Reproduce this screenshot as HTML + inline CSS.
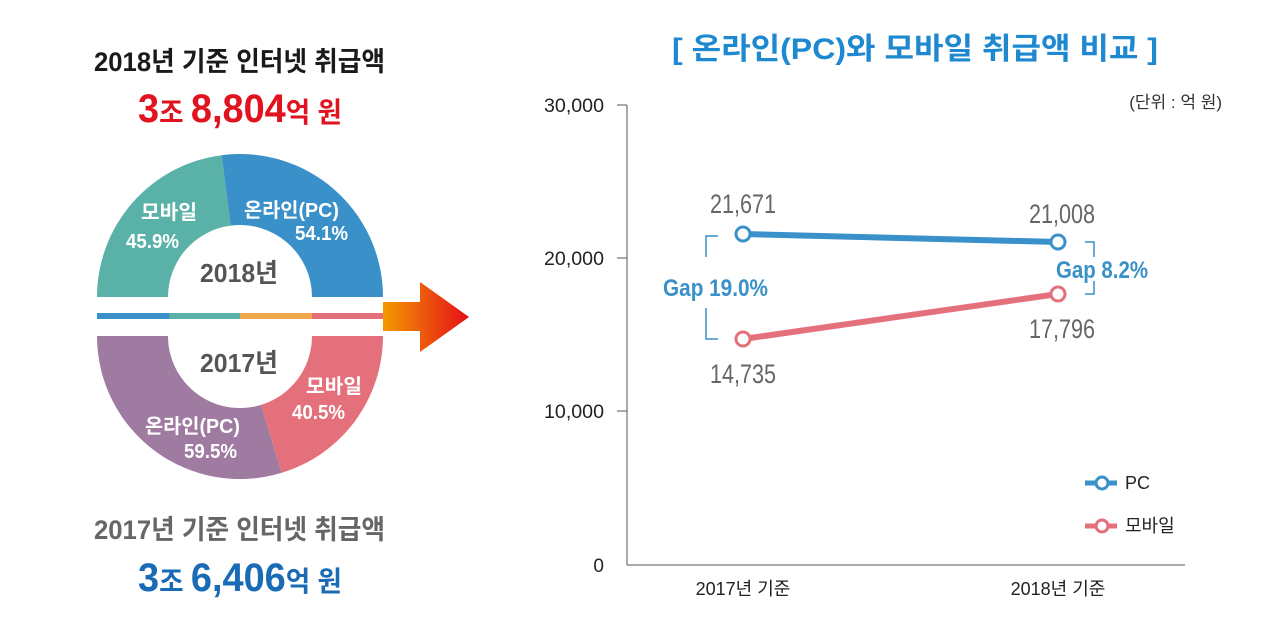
<!DOCTYPE html>
<html><head><meta charset="utf-8"><style>
html,body{margin:0;padding:0;background:#fff;}
svg{display:block;font-family:"Liberation Sans","Noto Sans CJK KR",sans-serif;}
</style></head><body>
<svg width="1280" height="633" viewBox="0 0 1280 633" xmlns="http://www.w3.org/2000/svg">
<defs>
<linearGradient id="ag" x1="0" x2="1" y1="0" y2="0"><stop offset="0" stop-color="#f39a00"/><stop offset="1" stop-color="#e50e18"/></linearGradient>
</defs>
<!-- left titles -->
<text x="94" y="71" font-size="27" font-weight="bold" fill="#1a1a1a" textLength="291" lengthAdjust="spacingAndGlyphs">2018년 기준 인터넷 취급액</text>
<text x="138" y="122" fill="#e0131f" font-weight="bold" textLength="204" lengthAdjust="spacingAndGlyphs"><tspan font-size="40">3</tspan><tspan font-size="28">조 </tspan><tspan font-size="40">8,804</tspan><tspan font-size="28">억 원</tspan></text>
<text x="94" y="539" font-size="27" font-weight="bold" fill="#666" textLength="291" lengthAdjust="spacingAndGlyphs">2017년 기준 인터넷 취급액</text>
<text x="138" y="591" fill="#1a6bb5" font-weight="bold" textLength="204" lengthAdjust="spacingAndGlyphs"><tspan font-size="40">3</tspan><tspan font-size="28">조 </tspan><tspan font-size="40">6,406</tspan><tspan font-size="28">억 원</tspan></text>
<!-- top donut -->
<path d="M97,297 A143,143 0 0 1 221.6,155.2 L230.7,225.6 A72,72 0 0 0 168,297 Z" fill="#5ab1a7"/>
<path d="M221.6,155.2 A143,143 0 0 1 383,297 L312,297 A72,72 0 0 0 230.7,225.6 Z" fill="#3a90c9"/>
<!-- bottom donut -->
<path d="M97,336 A143,143 0 0 0 281.8,472.8 L261,404.9 A72,72 0 0 1 168,336 Z" fill="#a07ba1"/>
<path d="M281.8,472.8 A143,143 0 0 0 383,336 L312,336 A72,72 0 0 1 261,404.9 Z" fill="#e4707b"/>
<!-- stripe -->
<rect x="97" y="313" width="72" height="6" fill="#3a90c9"/>
<rect x="169" y="313" width="71" height="6" fill="#5ab1a7"/>
<rect x="240" y="313" width="72" height="6" fill="#f0a94a"/>
<rect x="312" y="313" width="71" height="6" fill="#e4707b"/>
<!-- arrow -->
<path d="M383,302 L420,302 L420,282 L469,317 L420,352 L420,331 L383,331 Z" fill="url(#ag)"/>
<!-- donut labels -->
<g fill="#fff" font-size="20" font-weight="bold">
<text x="141" y="219" textLength="56" lengthAdjust="spacingAndGlyphs">모바일</text>
<text x="126" y="248" textLength="53" lengthAdjust="spacingAndGlyphs">45.9%</text>
<text x="244" y="217" textLength="95" lengthAdjust="spacingAndGlyphs">온라인(PC)</text>
<text x="295" y="240" textLength="53" lengthAdjust="spacingAndGlyphs">54.1%</text>
<text x="306" y="393" textLength="56" lengthAdjust="spacingAndGlyphs">모바일</text>
<text x="292" y="419" textLength="53" lengthAdjust="spacingAndGlyphs">40.5%</text>
<text x="145" y="433" textLength="95" lengthAdjust="spacingAndGlyphs">온라인(PC)</text>
<text x="184" y="458" textLength="53" lengthAdjust="spacingAndGlyphs">59.5%</text>
</g>
<text x="200" y="282" font-size="26" font-weight="bold" fill="#555" textLength="78" lengthAdjust="spacingAndGlyphs">2018년</text>
<text x="200" y="372" font-size="26" font-weight="bold" fill="#555" textLength="78" lengthAdjust="spacingAndGlyphs">2017년</text>
<!-- right title -->
<text x="672" y="59" font-size="30" font-weight="bold" fill="#1e88d0" textLength="486" lengthAdjust="spacingAndGlyphs">[ 온라인(PC)와 모바일 취급액 비교 ]</text>
<text x="1222" y="108" font-size="17" fill="#333" text-anchor="end">(단위 : 억 원)</text>
<!-- axes -->
<g stroke="#555" stroke-width="1">
<line x1="627" y1="105" x2="627" y2="565"/>
<line x1="627" y1="565" x2="1185" y2="565"/>
<line x1="617" y1="105" x2="627" y2="105"/>
<line x1="617" y1="258" x2="627" y2="258"/>
<line x1="617" y1="411" x2="627" y2="411"/>
</g>
<g font-size="19" fill="#222" text-anchor="end">
<text x="604" y="112" textLength="60" lengthAdjust="spacingAndGlyphs">30,000</text>
<text x="604" y="265" textLength="60" lengthAdjust="spacingAndGlyphs">20,000</text>
<text x="604" y="418" textLength="60" lengthAdjust="spacingAndGlyphs">10,000</text>
<text x="604" y="572">0</text>
</g>
<text x="743" y="595" font-size="18" fill="#222" text-anchor="middle">2017년 기준</text>
<text x="1058" y="595" font-size="18" fill="#222" text-anchor="middle">2018년 기준</text>
<!-- series -->
<line x1="743" y1="234" x2="1058" y2="242" stroke="#3a90c9" stroke-width="6"/>
<line x1="743" y1="339" x2="1058" y2="294" stroke="#e4707b" stroke-width="6"/>
<g fill="#fff" stroke-width="3">
<circle cx="743" cy="234" r="7" stroke="#3a90c9"/>
<circle cx="1058" cy="242" r="7" stroke="#3a90c9"/>
<circle cx="743" cy="339" r="7" stroke="#e4707b"/>
<circle cx="1058" cy="294" r="7" stroke="#e4707b"/>
</g>
<g font-size="27" fill="#666" text-anchor="middle">
<text x="743" y="213" textLength="66" lengthAdjust="spacingAndGlyphs">21,671</text>
<text x="1062" y="223" textLength="66" lengthAdjust="spacingAndGlyphs">21,008</text>
<text x="743" y="383" textLength="66" lengthAdjust="spacingAndGlyphs">14,735</text>
<text x="1062" y="338" textLength="66" lengthAdjust="spacingAndGlyphs">17,796</text>
</g>
<!-- gaps -->
<g stroke="#3a90c9" stroke-width="1.5" fill="none">
<polyline points="718,236 706,236 706,257"/>
<polyline points="706,308 706,339 718,339"/>
<polyline points="1085,242 1094,242 1094,257"/>
<polyline points="1094,281 1094,294 1085,294"/>
</g>
<text x="663" y="296" font-size="24" font-weight="bold" fill="#3a90c9" textLength="105" lengthAdjust="spacingAndGlyphs">Gap 19.0%</text>
<text x="1056" y="278" font-size="24" font-weight="bold" fill="#3a90c9" textLength="92" lengthAdjust="spacingAndGlyphs">Gap 8.2%</text>
<!-- legend -->
<line x1="1085" y1="483" x2="1117" y2="483" stroke="#3a90c9" stroke-width="5"/>
<circle cx="1102" cy="483" r="6" fill="#fff" stroke="#3a90c9" stroke-width="3"/>
<text x="1125" y="489" font-size="18" fill="#222">PC</text>
<line x1="1085" y1="526" x2="1117" y2="526" stroke="#e4707b" stroke-width="5"/>
<circle cx="1102" cy="526" r="6" fill="#fff" stroke="#e4707b" stroke-width="3"/>
<text x="1125" y="532" font-size="18" fill="#222">모바일</text>
</svg>
</body></html>
